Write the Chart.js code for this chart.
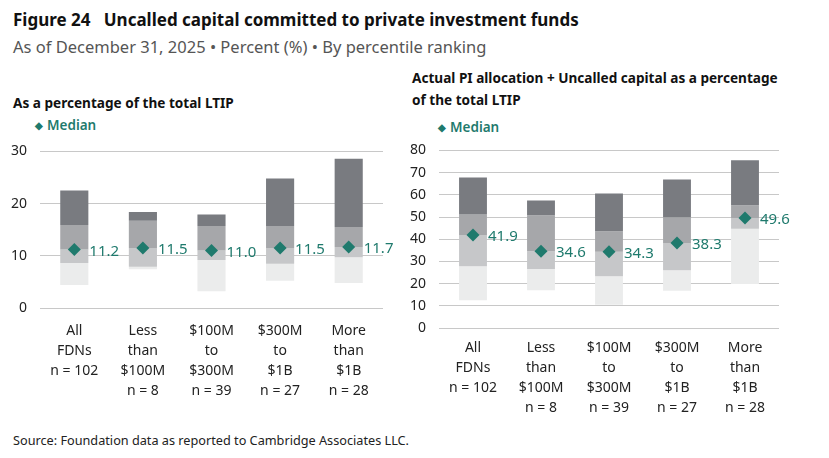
<!DOCTYPE html>
<html lang="en">
<head>
<meta charset="UTF-8" />
<title>Figure 24 - Uncalled capital</title>
<style>
  body {
    margin: 0;
    background: #fff;
    font-family: "Noto Sans", Arial, sans-serif;
    color: #222;
    width: 829px;
    height: 458px;
    position: relative;
    overflow: hidden;
  }
  .abs { position: absolute; white-space: nowrap; }
  #title { left: 13px; top: 8px; font-size: 17px; font-weight: bold; color: #111; }
  #subtitle { left: 13px; top: 35px; font-size: 16.5px; color: #555; }
  .heading { font-size: 13.6px; font-weight: bold; color: #111; line-height: 22px; }
  .legend { font-size: 13.5px; font-weight: 600; color: #1f7a6d; }
  .legend span { font-size: 10px; position: relative; top: -1px; margin-right: 4px; }
  #source { left: 13px; top: 431px; font-size: 12.7px; color: #222; }
  .chart-box { position: absolute; }
</style>
</head>
<body>

<div id="title" class="abs">Figure 24&nbsp;&nbsp;&nbsp;Uncalled capital committed to private investment funds</div>
<div id="subtitle" class="abs">As of December 31, 2025 • Percent (%) • By percentile ranking</div>

<div class="abs heading" style="left:13px; top:92px;">As a percentage of the total LTIP</div>
<div class="abs legend" style="left:35px; top:116px;"><span>◆</span>Median</div>

<div class="abs heading" style="left:412px; top:67px;">Actual PI allocation + Uncalled capital as a percentage<br>of the total LTIP</div>
<div class="abs legend" style="left:438px; top:118px;"><span>◆</span>Median</div>

<div class="chart-box" style="left:0; top:130px; width:400px; height:273px;">
  <canvas id="leftChart"></canvas>
</div>
<div class="chart-box" style="left:400px; top:129px; width:429px; height:294px;">
  <canvas id="rightChart"></canvas>
</div>

<div id="source" class="abs">Source: Foundation data as reported to Cambridge Associates LLC.</div>

<script src="https://cdn.jsdelivr.net/npm/chart.js"></script>
<script>
  // categories (multi-line labels)
  const categories = [
    ['All', 'FDNs', 'n = 102'],
    ['Less', 'than', '$100M', 'n = 8'],
    ['$100M', 'to', '$300M', 'n = 39'],
    ['$300M', 'to', '$1B', 'n = 27'],
    ['More', 'than', '$1B', 'n = 28']
  ];

  // left panel: uncalled capital as % of LTIP
  const ltipP5  = [4.4, 7.4, 3.2, 5.2, 4.8];
  const ltipP25 = [8.6, 7.9, 9.2, 8.5, 9.7];
  const ltipMed = [11.2, 11.5, 11.0, 11.5, 11.7];
  const ltipP75 = [15.9, 16.7, 15.7, 15.7, 15.5];
  const ltipP95 = [22.5, 18.4, 17.9, 24.8, 28.6];
  const ltipTicks = [0, 10, 20, 30];

  // right panel: actual PI allocation + uncalled capital as % of LTIP
  const totP5  = [12.5, 17.0, 10.5, 16.8, 19.8];
  const totP25 = [27.8, 26.6, 23.3, 26.0, 44.7];
  const totMed = [41.9, 34.6, 34.3, 38.3, 49.6];
  const totP75 = [51.1, 50.8, 43.6, 49.9, 55.3];
  const totP95 = [67.8, 57.4, 60.6, 66.9, 75.6];
  const totTicks = [0, 10, 20, 30, 40, 50, 60, 70, 80];

  const TEAL = '#1f7a6d';
  const FONT = '"Noto Sans", Arial, sans-serif';

  // draws the median value next to each diamond
  const medianLabels = {
    id: 'medianLabels',
    afterDatasetsDraw(chart) {
      const meta = chart.getDatasetMeta(0);
      const ctx = chart.ctx;
      ctx.save();
      ctx.fillStyle = TEAL;
      ctx.font = '15px ' + FONT;
      ctx.textAlign = 'left';
      ctx.textBaseline = 'middle';
      meta.data.forEach((pt, i) => {
        const v = chart.data.datasets[0].data[i];
        ctx.fillText(v.toFixed(1), pt.x + 15, pt.y + 2);
      });
      ctx.restore();
    }
  };

  function pairs(lo, hi) {
    return lo.map((v, i) => [v, hi[i]]);
  }

  function makeChart(id, p5, p25, med, p75, p95, ticks, yWidth, padRight, labelPad) {
    const bar = (lo, hi, color) => ({
      type: 'bar',
      data: pairs(lo, hi),
      backgroundColor: color,
      borderWidth: 0,
      grouped: false,
      barPercentage: 0.41,
      categoryPercentage: 1
    });

    return new Chart(document.getElementById(id), {
      data: {
        labels: categories,
        datasets: [
          {
            type: 'line',
            label: 'Median',
            data: med,
            showLine: false,
            pointStyle: 'rectRot',
            pointRadius: 6.5,
            pointBackgroundColor: TEAL,
            pointBorderColor: TEAL,
            pointBorderWidth: 0
          },
          bar(p75, p95, '#797b80'),
          bar(med, p75, '#a6a7aa'),
          bar(p25, med, '#c6c7c9'),
          bar(p5, p25, '#ebecec')
        ]
      },
      options: {
        responsive: true,
        maintainAspectRatio: false,
        animation: false,
        layout: { padding: { top: 0, right: padRight, left: 0, bottom: 0 } },
        plugins: {
          legend: { display: false },
          tooltip: { enabled: false }
        },
        scales: {
          x: {
            grid: { display: false },
            border: { display: false },
            ticks: {
              color: '#222',
              font: { family: FONT, size: 14, lineHeight: 1.42 },
              maxRotation: 0,
              autoSkip: false,
              padding: labelPad
            },
            afterFit(scale) { scale.height = 95; }
          },
          y: {
            min: ticks[0],
            max: ticks[ticks.length - 1],
            afterBuildTicks(scale) { scale.ticks = ticks.map(v => ({ value: v })); },
            grid: { color: '#c8c8c8', lineWidth: 1, drawTicks: false },
            border: { display: false },
            ticks: {
              color: '#222',
              font: { family: FONT, size: 14 },
              padding: 13
            },
            afterFit(scale) { scale.width = yWidth; }
          }
        }
      },
      plugins: [medianLabels]
    });
  }

  makeChart('leftChart', ltipP5, ltipP25, ltipMed, ltipP75, ltipP95, ltipTicks, 40, 17, 5);
  makeChart('rightChart', totP5, totP25, totMed, totP75, totP95, totTicks, 39, 50, 2);
</script>

</body>
</html>
